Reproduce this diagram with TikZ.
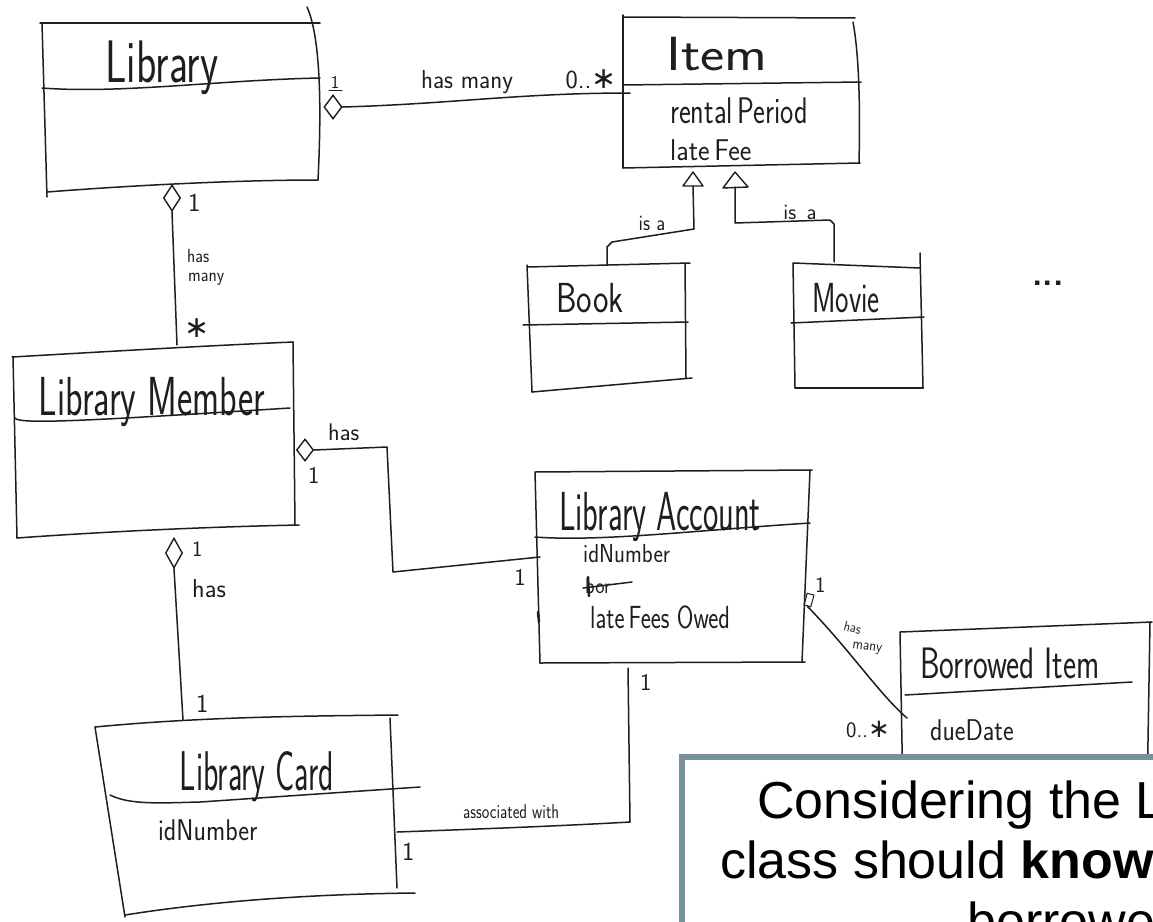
\documentclass[tikz,border=0pt]{standalone}
\usepackage{graphicx}
\usepackage{fontspec}
\setmainfont{Liberation Sans}
\newfontfamily\symfont{DejaVu Sans}
\usetikzlibrary{shapes.geometric}
\definecolor{inkc}{RGB}{30,30,30}
\definecolor{framec}{RGB}{122,143,158}
% handwritten-looking label: size, horizontal squeeze, text
\newcommand\hw[3]{{\fontsize{#1}{#1}\selectfont\scalebox{#2}[1]{#3}}}
% multiplicity star
\newcommand\mult[1]{{\symfont\fontsize{#1}{#1}\selectfont ∗}}
\tikzset{
  ink/.style={draw=inkc, line width=1.5pt, line cap=round, line join=round},
  hand/.style={font=\sffamily, text=inkc, inner sep=0pt},
  agg/.style={diamond, draw=inkc, line width=1.4pt, fill=white, inner sep=0pt},
  gen/.style={draw=inkc, line width=1.4pt, fill=white, line join=round},
  quote/.style={font=\fontsize{52}{52}\selectfont, text=black, inner sep=0pt, anchor=base west},
}
\begin{document}
\begin{tikzpicture}[x=1pt,y=-1pt]
\useasboundingbox (0,0) rectangle (1153,921);
\fill[white] (0,0) rectangle (1153,921);
\clip (0,0) rectangle (1153,921);

% ---------- Library ----------
\draw[ink] (40,23) -- (320,23);
\draw[ink] (42,23) -- (47,197);
\draw[ink] (307,7) .. controls (322,40) and (321,120) .. (318,180);
\draw[ink] (47,192) .. controls (150,184) and (250,180) .. (318,180);
\draw[ink] (42,88) .. controls (120,94) and (220,80) .. (320,78);
\node[hand, anchor=base] (library) at (162,82) {\hw{60}{0.70}{Library}};

% ---------- Item ----------
\draw[ink] (623,17) -- (855,18);
\draw[ink] (623,15) -- (623,168);
\draw[ink] (853,22) .. controls (860,60) and (860,120) .. (859,163);
\draw[ink] (623,168) -- (860,163);
\draw[ink] (623,85) -- (861,82);
\node[hand, anchor=base] (item) at (717,70) {\hw{48}{1.2}{Item}};
\node[hand, anchor=base west] (rental) at (670,123) {\hw{37}{0.76}{rental\,Period}};
\node[hand, anchor=base west] (latefee) at (670,160) {\hw{30}{0.92}{late\,Fee}};

% ---------- Book ----------
\draw[ink] (527,267) -- (690,263);
\draw[ink] (527,265) -- (532,392);
\draw[ink] (685,263) -- (686,378);
\draw[ink] (532,392) -- (692,378);
\draw[ink] (523,325) -- (688,322);
\node[hand, anchor=base] (book) at (590,312) {\hw{42}{0.78}{Book}};

% ---------- Movie ----------
\draw[ink] (793,263) -- (920,268);
\draw[ink] (920,253) -- (923,388);
\draw[ink] (793,263) -- (795,388);
\draw[ink] (795,388) -- (923,388);
\draw[ink] (791,323) -- (924,317);
\node[hand, anchor=base] (movie) at (846,312) {\hw{42}{0.68}{Movie}};

\node[hand] (more) at (1048,283) {\hw{34}{1}{\textbf{...}}};

% ---------- Library Member ----------
\draw[ink] (12,357) .. controls (100,352) and (200,346) .. (293,342);
\draw[ink] (13,357) -- (17,538);
\draw[ink] (293,342) -- (295,525);
\draw[ink] (17,538) .. controls (100,532) and (200,527) .. (299,525);
\draw[ink] (15,418) .. controls (18,425) and (100,420) .. (290,408);
\node[hand, anchor=base] (member) at (152,415) {\hw{55}{0.66}{Library Member}};

% ---------- Library Account ----------
\draw[ink] (535,472) -- (812,470);
\draw[ink] (535,472) -- (540,663);
\draw[ink] (810,470) -- (802,662);
\draw[ink] (540,663) -- (805,662);
\draw[ink] (535,537) .. controls (600,542) and (700,530) .. (810,523);
\draw[ink, line width=2.5pt] (538,612) -- (539,622);
\node[hand, anchor=base] (account) at (660,530) {\hw{55}{0.59}{Library Account}};
\node[hand, anchor=base west] (accid) at (583,562) {\hw{26}{0.87}{idNumber}};
\node[hand, anchor=base west] (bor) at (585,593) {\hw{22}{0.9}{bor}};
\draw[ink] (583,588) -- (632,582);
\draw[ink, line width=2.5pt] (588,577) -- (589,596);
\node[hand, anchor=base west] (owed) at (590,628) {\hw{32}{0.75}{late\,Fees Owed}};

% ---------- Library Card ----------
\draw[ink] (95,727) .. controls (200,717) and (300,716) .. (398,715);
\draw[ink] (95,727) -- (125,917);
\draw[ink] (390,718) -- (397,888);
\draw[ink] (125,915) .. controls (220,900) and (320,894) .. (415,893);
\draw[ink] (110,795) .. controls (130,805) and (160,803) .. (200,802) -- (420,787);
\node[hand, anchor=base] (card) at (257,790) {\hw{56}{0.57}{Library Card}};
\node[hand, anchor=base west] (cardid) at (158,840) {\hw{30}{0.86}{idNumber}};

% ---------- Borrowed Item ----------
\draw[ink] (900,632) -- (1152,622);
\draw[ink] (900,632) -- (903,800);
\draw[ink] (1150,622) -- (1147,800);
\draw[ink] (905,695) -- (1132,682);
\node[hand, anchor=base] (borrowed) at (1010,678) {\hw{44}{0.71}{Borrowed Item}};
\node[hand, anchor=base west] (due) at (930,740) {\hw{30}{0.85}{dueDate}};

% ---------- Library has many Item ----------
\node[agg, minimum width=18pt, minimum height=24pt] (dLib) at (333,107) {};
\coordinate (itemL) at (630,93);
\draw[ink] (dLib.east) .. controls (450,104) and (520,93) .. (itemL);
\node[hand, anchor=base] (libOne) at (335,88) {\hw{18}{1}{1}};
\draw[ink, line width=1pt] (329,90) -- (342,90);
\node[hand, anchor=base] (hasMany1) at (467,88) {\hw{26}{0.95}{has many}};
\node[hand, anchor=base] (itemMany) at (591,88) {\hw{26}{1}{0..}\mult{30}};

% ---------- Item generalisations ----------
\draw[gen] (683,186) -- (693,172) -- (703,186) -- cycle;
\coordinate (genBook) at (693,186);
\draw[gen] (723,188) -- (735,172) -- (748,187) -- cycle;
\coordinate (genMovie) at (735,187);
\coordinate (bookTop) at (607,265);
\coordinate (movieTop) at (834,262);
\draw[ink] (genBook) -- (694,229) -- (612,242) -- (607,247) -- (bookTop);
\draw[ink] (genMovie) -- (735,223) -- (830,220) -- (834,224) -- (movieTop);
\node[hand] (isA1) at (652,223) {\hw{22}{0.9}{is a}};
\node[hand] (isA2) at (800,212) {\hw{22}{1}{is\, a}};

% ---------- Library has many Library Member ----------
\node[agg, minimum width=17pt, minimum height=26pt] (dLib2) at (172,198) {};
\coordinate (memberTop) at (177,345);
\draw[ink] (dLib2.south) -- (memberTop);
\node[hand, anchor=base west] (libOne2) at (188,211) {\hw{26}{1}{1}};
\node[hand, anchor=base west] (hasMany2a) at (187,262) {\hw{19}{0.9}{has}};
\node[hand, anchor=base west] (hasMany2b) at (188,281) {\hw{19}{0.9}{many}};
\node[hand] (memberMany) at (197,328) {\mult{30}};

% ---------- Library Member has Library Account ----------
\node[agg, minimum width=17pt, minimum height=22pt] (dMem) at (305,450) {};
\coordinate (accountL) at (540,557);
\draw[ink] (dMem.east) -- (387,447) -- (393,572) -- (accountL);
\node[hand, anchor=base west] (hasAcc) at (328,440) {\hw{24}{1}{has}};
\node[hand, anchor=base west] (memOne) at (308,483) {\hw{24}{1}{1}};
\node[hand, anchor=base] (accOne) at (520,585) {\hw{24}{1}{1}};

% ---------- Library Member has Library Card ----------
\node[agg, minimum width=17pt, minimum height=30pt] (dMem2) at (174,553) {};
\coordinate (cardTop) at (183,720);
\draw[ink] (dMem2.south) -- (cardTop);
\node[hand, anchor=base west] (memOne2) at (192,556) {\hw{22}{1}{1}};
\node[hand, anchor=base west] (hasCard) at (192,597) {\hw{26}{1}{has}};
\node[hand, anchor=base west] (cardOne) at (196,712) {\hw{26}{1}{1}};

% ---------- Library Card associated with Library Account ----------
\coordinate (cardR) at (397,832);
\coordinate (accountB) at (628,668);
\draw[ink] (cardR) .. controls (480,829) and (560,826) .. (630,822) -- (accountB);
\node[hand, anchor=base west] (assoc) at (463,818) {\hw{20}{0.8}{associated with}};
\node[hand, anchor=base west] (cardOne2) at (402,860) {\hw{26}{1}{1}};
\node[hand, anchor=base west] (accOne2) at (640,690) {\hw{24}{1}{1}};

% ---------- Library Account has many Borrowed Item ----------
\node[draw=inkc, line width=1pt, minimum width=7pt, minimum height=12pt, inner sep=0pt, rotate=-15] (dAcc) at (809,600) {};
\coordinate (borrowedL) at (907,718);
\draw[ink] (dAcc.south) .. controls (850,650) and (880,695) .. (borrowedL);
\node[hand, anchor=base west] (accOne3) at (815,592) {\hw{22}{1}{1}};
\node[hand, anchor=base west, rotate=-14] (hasMany3a) at (843,630) {\hw{14}{0.9}{has}};
\node[hand, anchor=base west, rotate=-8] (hasMany3b) at (852,648) {\hw{15}{0.9}{many}};
\node[hand] (borrowedMany) at (868,730) {\hw{22}{1}{0..}\mult{26}};

% ---------- question panel ----------
\draw[draw=framec, line width=6pt, fill=white] (682,757) rectangle (1200,960);
\node[quote] (q1) at (757,818) {Considering the L};
\node[quote] (q2) at (720,878) {class should \textbf{know}};
\node[quote] (q3) at (967,939) {borrowed};
\end{tikzpicture}
\end{document}
